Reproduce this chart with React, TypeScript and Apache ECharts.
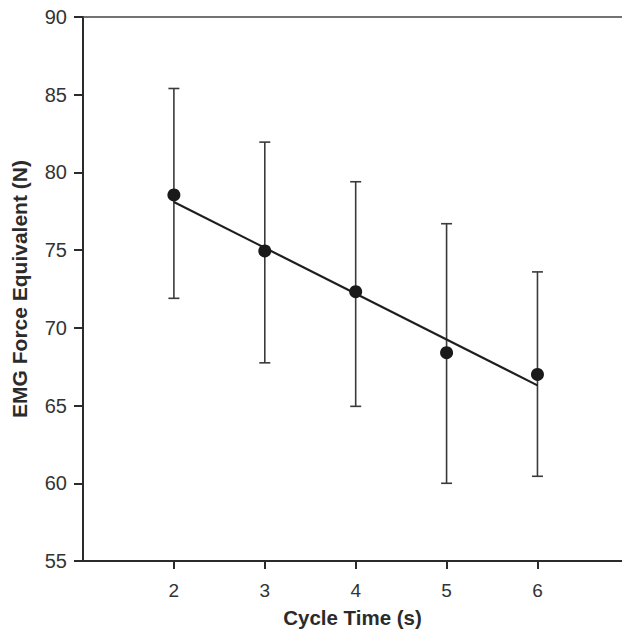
import React, { useEffect, useRef } from "react";
import * as echarts from "echarts";

const cycleTimes = [2, 3, 4, 5, 6];
const meanForce = [78.55, 74.95, 72.33, 68.4, 67.0];
const upperForce = [85.4, 81.95, 79.4, 76.7, 73.6];
const lowerForce = [71.9, 67.75, 64.95, 60.0, 60.45];
const fitLine = [
  [2, 78.1],
  [6, 66.3],
];
const yTicks = [55, 60, 65, 70, 75, 80, 85, 90];
const xTicks = [2, 3, 4, 5, 6];

const ink = "#2b2b2b";
const font = "'Liberation Sans', Arial, sans-serif";

export default function App() {
  const ref = useRef<HTMLDivElement>(null);
  useEffect(() => {
    if (!ref.current) return;
    const chart = echarts.init(ref.current, null, { renderer: "svg" });
    const errData = cycleTimes.map((x, i) => [x, lowerForce[i], upperForce[i]]);
    chart.setOption({
      animation: false,
      backgroundColor: "#ffffff",
      grid: { left: 83, right: 0, top: 17, bottom: 69, containLabel: false, outerBoundsMode: "none" },
      xAxis: [
        {
          type: "value",
          min: 1,
          max: 6.93,
          interval: 1,
          name: "Cycle Time (s)",
          nameLocation: "middle",
          nameGap: 46,
          nameTextStyle: { fontFamily: font, fontWeight: "bold", fontSize: 20.5, color: ink },
          axisLine: { show: true, lineStyle: { color: ink, width: 2 } },
          axisTick: { show: true, length: 8, inside: false, customValues: xTicks, lineStyle: { color: ink, width: 2 } },
          axisLabel: { customValues: xTicks, fontFamily: font, fontSize: 19, color: "#333", margin: 20 },
          splitLine: { show: false },
        },
        {
          type: "value",
          position: "top",
          min: 1,
          max: 6.93,
          axisLine: { show: true, onZero: false, lineStyle: { color: "#444", width: 1.5 } },
          axisTick: { show: false },
          axisLabel: { show: false },
          splitLine: { show: false },
        },
      ],
      yAxis: {
        type: "value",
        min: 55,
        max: 90,
        interval: 5,
        name: "EMG Force Equivalent (N)",
        nameLocation: "middle",
        nameGap: 53,
        nameTextStyle: { fontFamily: font, fontWeight: "bold", fontSize: 21, color: ink },
        axisLine: { show: true, lineStyle: { color: ink, width: 2 } },
        axisTick: { show: true, length: 9, customValues: yTicks, lineStyle: { color: ink, width: 2 } },
        axisLabel: { fontFamily: font, fontSize: 20, color: "#333", margin: 16 },
        splitLine: { show: false },
      },
      series: [
        {
          type: "custom",
          data: errData,
          z: 2,
          renderItem: (params: any, api: any) => {
            const x = api.value(0);
            const lo = api.coord([x, api.value(1)]);
            const hi = api.coord([x, api.value(2)]);
            const hw = 5.5;
            const style = { stroke: "#3a3a3a", lineWidth: 1.6 };
            return {
              type: "group",
              children: [
                { type: "line", shape: { x1: hi[0], y1: hi[1], x2: lo[0], y2: lo[1] }, style },
                { type: "line", shape: { x1: hi[0] - hw, y1: hi[1], x2: hi[0] + hw, y2: hi[1] }, style },
                { type: "line", shape: { x1: lo[0] - hw, y1: lo[1], x2: lo[0] + hw, y2: lo[1] }, style },
              ],
            };
          },
        },
        {
          type: "line",
          data: fitLine,
          showSymbol: false,
          symbol: "none",
          z: 3,
          lineStyle: { color: "#1e1e1e", width: 2.2 },
        },
        {
          type: "scatter",
          data: cycleTimes.map((x, i) => [x, meanForce[i]]),
          symbol: "circle",
          symbolSize: 13,
          z: 4,
          itemStyle: { color: "#1a1a1a", opacity: 1 },
        },
      ],
    });
    return () => chart.dispose();
  }, []);
  return (
    <div
      ref={ref}
      style={{ position: "fixed", left: 0, top: 0, width: 622, height: 630, background: "#fff" }}
    />
  );
}
